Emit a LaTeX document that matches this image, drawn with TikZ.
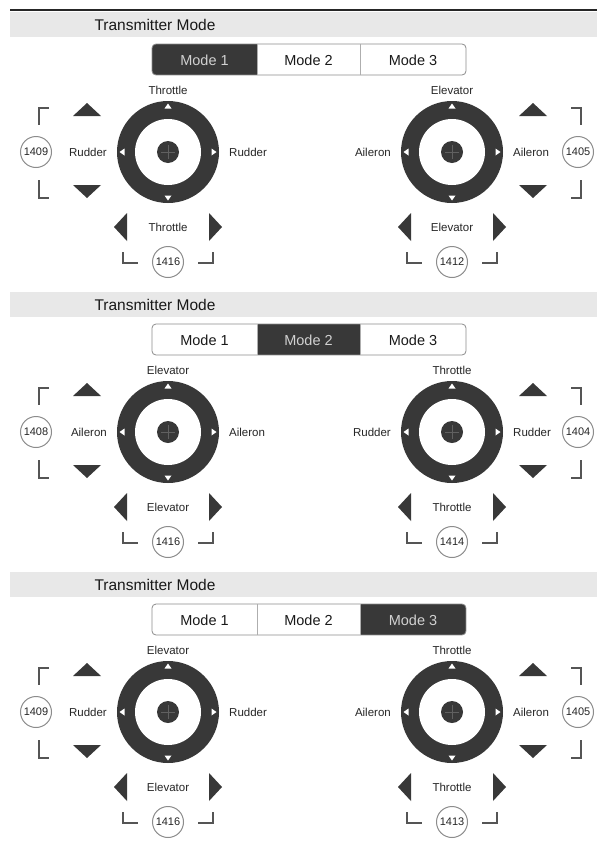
\documentclass[tikz,border=0pt]{standalone}
\usepackage{fontspec}
\setmainfont{Liberation Sans}
\definecolor{ink}{HTML}{383838}
\definecolor{bandc}{HTML}{E8E8E8}
\definecolor{ringc}{HTML}{8C8C8C}
\definecolor{brkc}{HTML}{555555}
\definecolor{crossc}{HTML}{606060}
\tikzset{
  title/.style={font=\fontsize{15.5}{18}\selectfont, text=black!90, inner sep=0},
  modetxt/.style={font=\fontsize{14.5}{17}\selectfont, text=black!90, inner sep=0},
  modeact/.style={modetxt, text=black!18},
  lab/.style={font=\fontsize{11.5}{13}\selectfont, text=black!85, inner sep=0},
  numc/.style={circle, draw=ringc, line width=1pt, minimum size=31pt, inner sep=0pt, font=\fontsize{11}{12}\selectfont, text=black!85},
  brk/.style={draw=brkc, line width=1.4pt},
  tri/.style={fill=ink}
}
\newcommand\panelhead[3]{%
  \fill[bandc] (10,#1+12) rectangle (597,#1+37);
  \node[title] (title#3) at (155,#1+25) {Transmitter Mode};
  \begin{scope}
    \clip[rounded corners=4pt] (152,#1+44) rectangle (466,#1+75);
    \fill[white] (152,#1+44) rectangle (466,#1+75);
    \ifcase#2\or
      \fill[ink] (152,#1+44) rectangle (257,#1+75);
    \or
      \fill[ink] (257,#1+44) rectangle (360,#1+75);
    \or
      \fill[ink] (360,#1+44) rectangle (466,#1+75);
    \fi
  \end{scope}
  \ifcase#2\or
    \tikzset{msa/.style={modeact},msb/.style={modetxt},msc/.style={modetxt}}
  \or
    \tikzset{msa/.style={modetxt},msb/.style={modeact},msc/.style={modetxt}}
  \or
    \tikzset{msa/.style={modetxt},msb/.style={modetxt},msc/.style={modeact}}
  \fi
  \draw[ringc, line width=0.8pt, rounded corners=4pt] (152,#1+44) rectangle (466,#1+75);
  \draw[ringc!70, line width=0.8pt] (257,#1+44) -- (257,#1+75) (360,#1+44) -- (360,#1+75);
  \node[msa] (m1#3) at (204.5,#1+60) {Mode 1};
  \node[msb] (m2#3) at (308.5,#1+60) {Mode 2};
  \node[msc] (m3#3) at (413,#1+60) {Mode 3};
}
% #1 cx, #2 cy, #3 vertical-axis label, #4 horizontal-axis label, #5 side number, #6 bottom number, #7 side (-1 left, 1 right)
\newcommand\stick[7]{%
  \fill[ink] (#1,#2) circle (51);
  \fill[white] (#1,#2) circle (33);
  \fill[ink] (#1,#2) circle (11);
  \draw[crossc, line width=0.8pt] (#1-7,#2) -- (#1+7,#2) (#1,#2-7) -- (#1,#2+7);
  \foreach \a in {0,90,180,270}{
    \fill[white, shift={(#1,#2)}, rotate=\a] (43.5,-3.5) -- (43.5,3.5) -- (48.5,0) -- cycle;
  }
  \node[lab] (t-#1-#2) at (#1,#2-62) {#3};
  \node[lab] (b-#1-#2) at (#1,#2+75) {#3};
  \node[lab, anchor=east] (l-#1-#2) at (#1-61,#2) {#4};
  \node[lab, anchor=west] (r-#1-#2) at (#1+61,#2) {#4};
  % up / down arrows
  \fill[tri] ({#1+(#7)*81-14},#2-36) -- ({#1+(#7)*81+14},#2-36) -- ({#1+(#7)*81},#2-49) -- cycle;
  \fill[tri] ({#1+(#7)*81-14},#2+33) -- ({#1+(#7)*81+14},#2+33) -- ({#1+(#7)*81},#2+46) -- cycle;
  % left / right arrows
  \fill[tri] (#1-41,#2+61) -- (#1-41,#2+89) -- (#1-54,#2+75) -- cycle;
  \fill[tri] (#1+41,#2+61) -- (#1+41,#2+89) -- (#1+54,#2+75) -- cycle;
  % side brackets
  \draw[brk] ({#1+(#7)*129-(#7)*10},#2-44) -- ({#1+(#7)*129},#2-44) -- ({#1+(#7)*129},#2-27);
  \draw[brk] ({#1+(#7)*129},#2+28) -- ({#1+(#7)*129},#2+46) -- ({#1+(#7)*129-(#7)*10},#2+46);
  % bottom brackets
  \draw[brk] (#1-45,#2+100) -- (#1-45,#2+111) -- (#1-30,#2+111);
  \draw[brk] (#1+30,#2+111) -- (#1+45,#2+111) -- (#1+45,#2+100);
  \node[numc] (ns-#1-#2) at ({#1+(#7)*129-3},#2) {#5};
  \node[numc] (nb-#1-#2) at (#1,#2+110) {#6};
}
\begin{document}
\begin{tikzpicture}[x=1pt, y=-1pt]
  \useasboundingbox[fill=white] (0,0) rectangle (597,841);
  \draw[black!85, line width=1.5pt] (10,10) -- (597,10);
  % panel 1
  \panelhead{0}{1}{a}
  \stick{168}{152}{Throttle}{Rudder}{1409}{1416}{-1}
  \stick{452}{152}{Elevator}{Aileron}{1405}{1412}{1}
  % panel 2
  \panelhead{280}{2}{b}
  \stick{168}{432}{Elevator}{Aileron}{1408}{1416}{-1}
  \stick{452}{432}{Throttle}{Rudder}{1404}{1414}{1}
  % panel 3
  \panelhead{560}{3}{c}
  \stick{168}{712}{Elevator}{Rudder}{1409}{1416}{-1}
  \stick{452}{712}{Throttle}{Aileron}{1405}{1413}{1}
\end{tikzpicture}
\end{document}
